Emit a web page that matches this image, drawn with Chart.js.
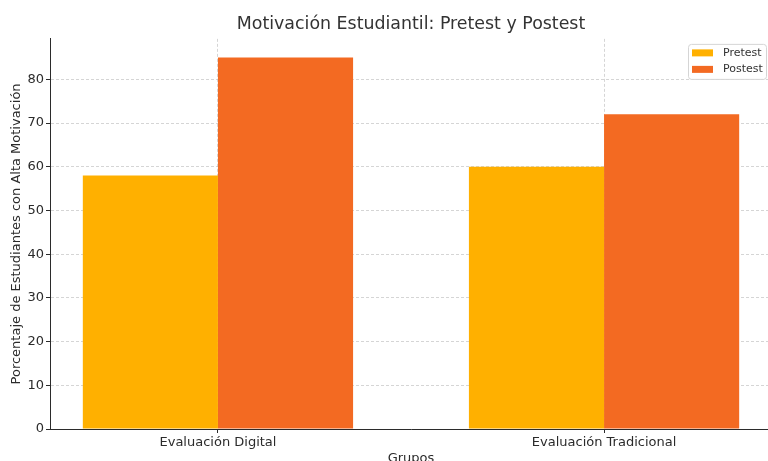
<!DOCTYPE html>
<html>
<head>
<meta charset="utf-8">
<script src="https://cdn.jsdelivr.net/npm/chart.js@4"></script>
<style>
  html, body { margin: 0; padding: 0; background: #fff; overflow: hidden; }
  #wrap { position: relative; width: 790px; height: 475px; }
</style>
</head>
<body>
<div id="wrap"><canvas id="chart"></canvas></div>
<script>
var categories = ["Evaluación Digital", "Evaluación Tradicional"];
var pretest = [58, 60];
var postest = [85, 72];
var yTicks = [0, 10, 20, 30, 40, 50, 60, 70, 80];

var FONT = "'DejaVu Sans', sans-serif";
var GRID = "rgba(185,185,185,0.6)";
var INK = "#2b2b2b";

function points(vals) {
  return vals.map(function (v, i) { return { x: i, y: v }; });
}

// center the title over the plot area, like matplotlib does
var centerTitle = {
  id: "centerTitle",
  afterLayout: function (chart) {
    var t = chart.titleBlock, a = chart.chartArea;
    if (!t) return;
    t.left = a.left;
    t.right = a.right;
    t.width = a.right - a.left;
  }
};

// matplotlib-like legend box in the top-right corner of the plot
var boxLegend = {
  id: "boxLegend",
  afterDraw: function (chart) {
    var ctx = chart.ctx, a = chart.chartArea;
    var w = 78, h = 35;
    var x = a.right - 84, y = a.top + 5;
    ctx.save();
    ctx.beginPath();
    ctx.roundRect(x + 0.5, y + 0.5, w, h, 3);
    ctx.fillStyle = "rgba(255,255,255,0.8)";
    ctx.fill();
    ctx.strokeStyle = "#d5d5d5";
    ctx.lineWidth = 1;
    ctx.stroke();
    ctx.font = "11px " + FONT;
    ctx.textBaseline = "middle";
    chart.data.datasets.forEach(function (ds, i) {
      var cy = y + 9 + i * 16.5;
      ctx.fillStyle = ds.backgroundColor;
      ctx.fillRect(x + 4, cy - 3.5, 21, 7);
      ctx.fillStyle = "#333";
      ctx.fillText(ds.label, x + 35, cy);
    });
    ctx.restore();
  }
};

new Chart(document.getElementById("chart"), {
  type: "bar",
  data: {
    datasets: [
      { label: "Pretest", data: points(pretest), backgroundColor: "#FFB000" },
      { label: "Postest", data: points(postest), backgroundColor: "#F36A22" }
    ]
  },
  options: {
    responsive: true,
    maintainAspectRatio: false,
    animation: false,
    events: [],
    categoryPercentage: 0.7,
    barPercentage: 1.0,
    layout: { padding: { left: 0, right: 18, top: 0, bottom: 0 } },
    plugins: {
      legend: { display: false },
      tooltip: { enabled: false },
      title: {
        display: true,
        text: "Motivación Estudiantil: Pretest y Postest",
        color: "#333",
        font: { family: FONT, size: 17.4, weight: "normal" },
        padding: { top: 14, bottom: 4 }
      }
    },
    scales: {
      x: {
        type: "linear",
        min: -0.435,
        max: 1.435,
        offset: false,
        z: 1,
        afterBuildTicks: function (s) {
          s.ticks = categories.map(function (c, i) { return { value: i }; });
        },
        afterFit: function (s) { s.height = 46; },
        ticks: {
          color: INK,
          padding: 2,
          maxRotation: 0,
          autoSkip: false,
          font: { family: FONT, size: 13 },
          callback: function (v) { return categories[v]; }
        },
        grid: { offset: false, color: GRID, tickColor: INK, tickLength: 4, tickBorderDash: [] },
        border: { display: true, color: INK, width: 1, dash: [3, 2] },
        title: {
          display: true,
          text: "Grupos",
          color: INK,
          font: { family: FONT, size: 13 },
          padding: { top: 4, bottom: 9 }
        }
      },
      y: {
        min: 0,
        max: 89.25,
        z: 1,
        afterBuildTicks: function (s) {
          s.ticks = yTicks.map(function (v) { return { value: v }; });
        },
        afterFit: function (s) { s.width = 50; },
        ticks: {
          color: INK,
          padding: 2,
          font: { family: FONT, size: 13 }
        },
        grid: { color: GRID, tickColor: INK, tickLength: 4, tickBorderDash: [] },
        border: { display: true, color: INK, width: 1, dash: [3, 2] },
        title: {
          display: true,
          text: "Porcentaje de Estudiantes con Alta Motivación",
          color: INK,
          font: { family: FONT, size: 13 },
          padding: { top: 9, bottom: 2 }
        }
      }
    }
  },
  plugins: [centerTitle, boxLegend]
});
</script>
</body>
</html>
